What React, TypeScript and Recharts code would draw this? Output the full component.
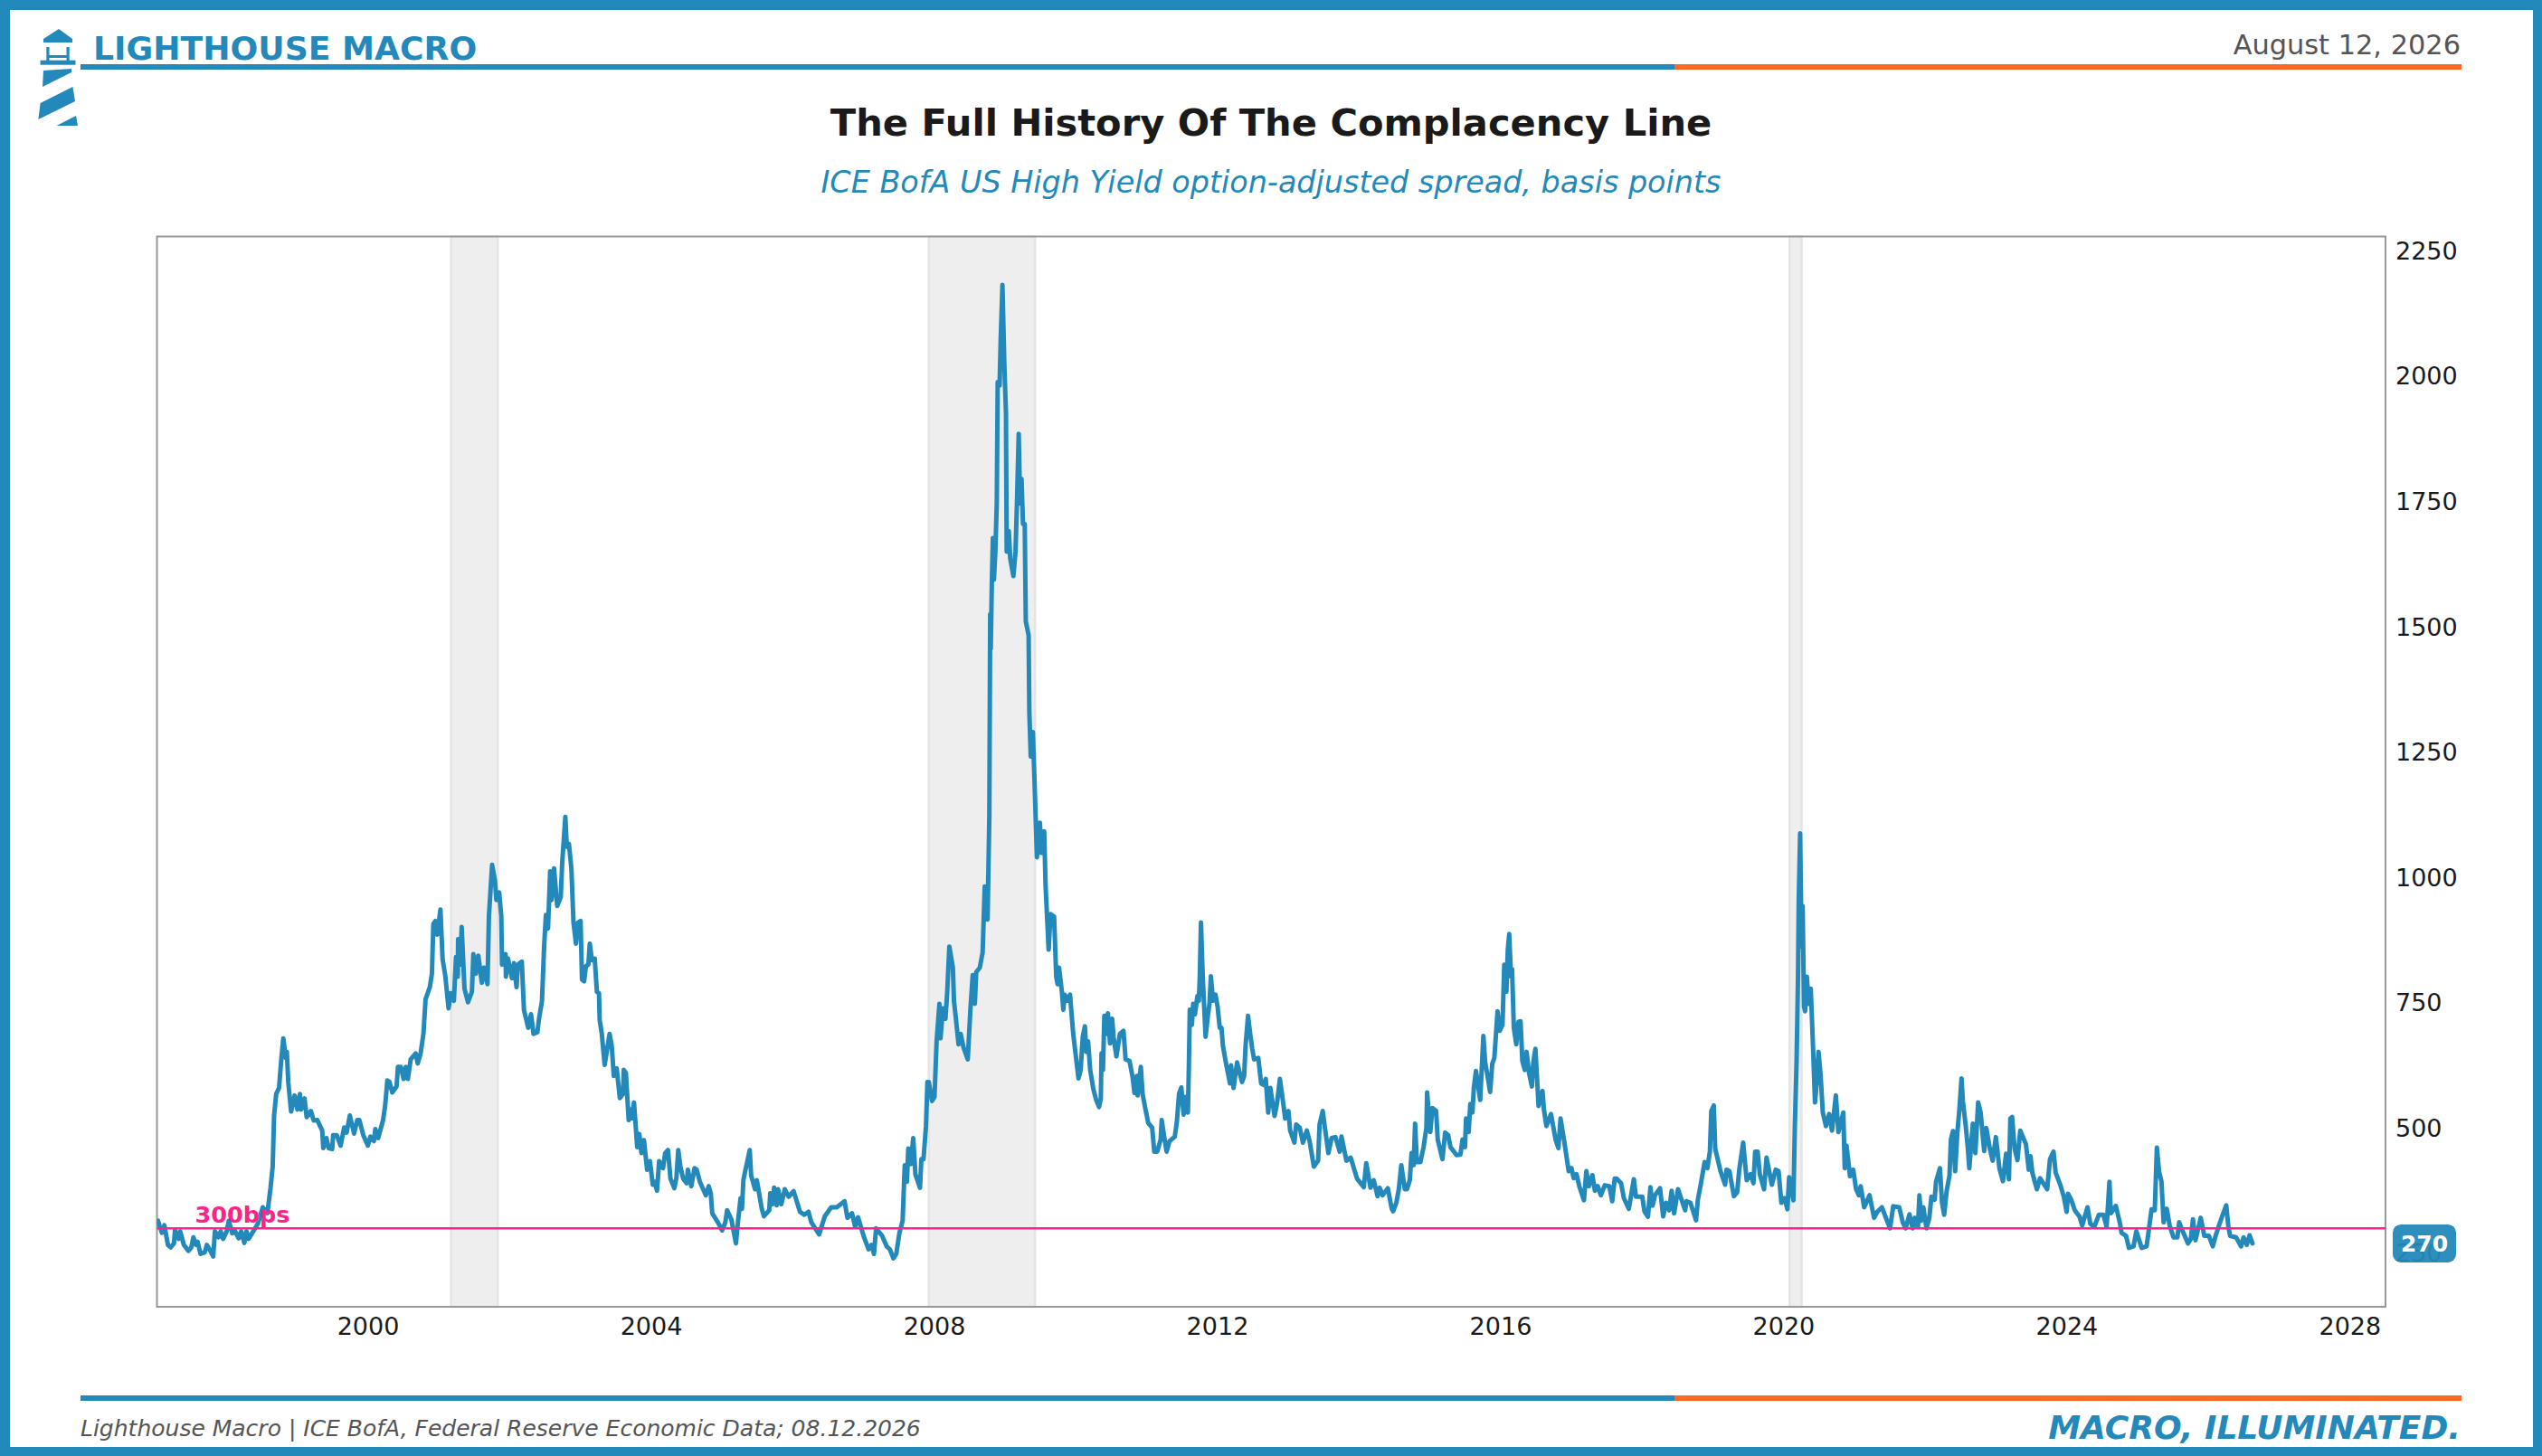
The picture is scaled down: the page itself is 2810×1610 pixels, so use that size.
import { LineChart, Line, XAxis, YAxis, ReferenceArea, ReferenceLine } from "recharts";

const OCEAN = "#2389BB";
const DUSK = "#FF6723";
const MAGENTA = "#FF2389";
const FONT = "'DejaVu Sans', sans-serif";

const xTicks = [2000, 2004, 2008, 2012, 2016, 2020, 2024, 2028];
const yTicks = [250, 500, 750, 1000, 1250, 1500, 1750, 2000, 2250];
const xDomain = [1997.015, 2028.5];
const yDomain = [143.5, 2278.5];
const complacencyLine = 300;
const latestSpread = 270;

// NBER recessions, start and end as decimal years
const recessions = [
  [2001.17, 2001.83],
  [2007.92, 2009.42],
  [2020.08, 2020.25],
];

// [decimal year, bps]
const spread1997to2000 = [
  [1997.03, 315], [1997.085, 291], [1997.12, 306], [1997.17, 267], [1997.21, 262], [1997.255, 270], [1997.27, 297], [1997.32, 279],
  [1997.344, 294], [1997.395, 267], [1997.46, 255], [1997.5, 262], [1997.53, 282], [1997.566, 267], [1997.59, 273], [1997.63, 249],
  [1997.69, 252], [1997.72, 267], [1997.77, 255], [1997.81, 244], [1997.834, 294], [1997.885, 282], [1997.915, 294], [1997.95, 279],
  [1998.0, 294], [1998.03, 315], [1998.08, 290], [1998.11, 297], [1998.17, 280], [1998.205, 294], [1998.25, 271], [1998.28, 294],
  [1998.31, 279], [1998.375, 294], [1998.44, 309], [1998.51, 342], [1998.575, 330], [1998.62, 381], [1998.65, 423], [1998.67, 525],
  [1998.7, 568], [1998.74, 580], [1998.77, 634], [1998.8, 679], [1998.835, 640], [1998.85, 652], [1998.87, 592], [1998.91, 533],
  [1998.96, 565], [1999.0, 537], [1999.035, 568], [1999.05, 537], [1999.1, 559], [1999.13, 522], [1999.19, 534], [1999.23, 515],
  [1999.28, 516], [1999.35, 495], [1999.365, 460], [1999.41, 480], [1999.44, 460], [1999.49, 458], [1999.505, 486], [1999.555, 486],
  [1999.61, 465], [1999.66, 501], [1999.695, 491], [1999.74, 525], [1999.8, 489], [1999.845, 516], [1999.875, 516], [1999.93, 486],
  [1999.995, 465],
];

const spread2000to2003 = [
  [2000.03, 483], [2000.08, 474], [2000.1, 498], [2000.14, 480], [2000.21, 516], [2000.24, 546], [2000.27, 595], [2000.3, 592],
  [2000.34, 571], [2000.4, 583], [2000.42, 622], [2000.46, 622], [2000.5, 598], [2000.53, 622], [2000.56, 598], [2000.6, 637],
  [2000.67, 649], [2000.7, 629], [2000.74, 649], [2000.78, 688], [2000.81, 757], [2000.87, 781], [2000.9, 808], [2000.92, 907],
  [2000.95, 913], [2000.975, 886], [2001.02, 936], [2001.05, 838], [2001.09, 802], [2001.135, 739], [2001.165, 769], [2001.21, 754],
  [2001.24, 841], [2001.265, 802], [2001.27, 877], [2001.3, 826], [2001.32, 901], [2001.36, 778], [2001.41, 751], [2001.465, 772],
  [2001.485, 847], [2001.52, 808], [2001.555, 844], [2001.605, 790], [2001.635, 820], [2001.685, 787], [2001.705, 922], [2001.75, 1025],
  [2001.79, 994], [2001.81, 955], [2001.85, 970], [2001.88, 922], [2001.89, 826], [2001.94, 847], [2001.945, 802], [2001.975, 838],
  [2002.03, 799], [2002.06, 829], [2002.095, 781], [2002.115, 826], [2002.17, 832], [2002.2, 736], [2002.26, 700], [2002.3, 727],
  [2002.335, 688], [2002.39, 691], [2002.41, 715], [2002.455, 754], [2002.485, 862], [2002.51, 925], [2002.54, 898], [2002.57, 1012],
  [2002.59, 955], [2002.625, 1018], [2002.67, 943], [2002.72, 961], [2002.74, 1028], [2002.785, 1121], [2002.805, 1061], [2002.835, 1067],
  [2002.87, 1018], [2002.9, 910], [2002.935, 868], [2002.965, 910], [2003.0, 913],
];

const spread2003to2007 = [
  [2003.02, 796], [2003.05, 793], [2003.075, 823], [2003.11, 826], [2003.13, 868], [2003.16, 835], [2003.2, 838], [2003.23, 772],
  [2003.26, 769], [2003.27, 715], [2003.3, 688], [2003.34, 626], [2003.37, 652], [2003.41, 688], [2003.44, 664], [2003.47, 604],
  [2003.51, 619], [2003.555, 560], [2003.6, 568], [2003.61, 616], [2003.64, 610], [2003.68, 516], [2003.71, 537], [2003.725, 519],
  [2003.755, 551], [2003.8, 462], [2003.83, 488], [2003.86, 450], [2003.895, 476], [2003.94, 417], [2003.98, 434], [2004.02, 387],
  [2004.045, 393], [2004.08, 375], [2004.11, 434], [2004.165, 420], [2004.195, 450], [2004.235, 456], [2004.27, 399], [2004.325, 380],
  [2004.355, 402], [2004.38, 456], [2004.41, 423], [2004.45, 399], [2004.5, 390], [2004.515, 417], [2004.565, 384], [2004.61, 420],
  [2004.64, 417], [2004.685, 393], [2004.77, 366], [2004.81, 384], [2004.84, 369], [2004.86, 330], [2004.94, 312], [2005.0, 296],
  [2005.045, 312], [2005.07, 336], [2005.13, 318], [2005.195, 270], [2005.225, 315], [2005.26, 360], [2005.28, 339], [2005.3, 396],
  [2005.33, 417], [2005.39, 456], [2005.41, 405], [2005.465, 378], [2005.49, 396], [2005.56, 339], [2005.59, 324], [2005.665, 336],
  [2005.68, 370], [2005.71, 348], [2005.735, 381], [2005.77, 346], [2005.79, 378], [2005.835, 348], [2005.885, 378], [2005.94, 363],
  [2006.01, 374], [2006.1, 333], [2006.16, 327], [2006.22, 333], [2006.26, 312], [2006.37, 288], [2006.45, 324], [2006.54, 342],
  [2006.62, 342], [2006.73, 354], [2006.77, 321], [2006.835, 330], [2006.88, 303], [2006.92, 322],
];

const spread2007to2009 = [
  [2007.005, 282], [2007.07, 258], [2007.11, 267], [2007.145, 249], [2007.175, 300], [2007.26, 285], [2007.325, 264], [2007.37, 258],
  [2007.42, 240], [2007.46, 249], [2007.505, 291], [2007.55, 315], [2007.58, 426], [2007.61, 393], [2007.63, 459], [2007.665, 428],
  [2007.7, 480], [2007.73, 408], [2007.795, 381], [2007.815, 438], [2007.845, 438], [2007.88, 504], [2007.9, 592], [2007.92, 592],
  [2007.965, 554], [2008.0, 562], [2008.03, 673], [2008.07, 748], [2008.085, 679], [2008.12, 739], [2008.155, 718], [2008.18, 772],
  [2008.21, 862], [2008.26, 820], [2008.275, 754], [2008.305, 715], [2008.34, 667], [2008.37, 688], [2008.41, 661], [2008.47, 637],
  [2008.51, 742], [2008.54, 805], [2008.57, 748], [2008.59, 811], [2008.64, 820], [2008.68, 850], [2008.71, 982], [2008.74, 922],
  [2008.75, 916], [2008.775, 1123], [2008.787, 1525], [2008.795, 1456], [2008.81, 1587], [2008.825, 1677], [2008.84, 1594], [2008.86, 1650],
  [2008.88, 1746], [2008.893, 1988], [2008.92, 1981], [2008.935, 2071], [2008.96, 2182], [2008.987, 2023], [2009.01, 1926], [2009.02, 1650],
  [2009.05, 1691], [2009.07, 1636], [2009.115, 1601], [2009.145, 1650], [2009.165, 1746], [2009.19, 1885], [2009.21, 1746], [2009.23, 1795],
  [2009.25, 1705], [2009.275, 1705], [2009.29, 1511], [2009.33, 1483], [2009.34, 1331], [2009.36, 1241], [2009.39, 1290], [2009.42, 1163],
];

const spread2009to2012 = [
  [2009.447, 1040], [2009.49, 1109], [2009.507, 1049], [2009.55, 1092], [2009.57, 982], [2009.613, 856], [2009.64, 927], [2009.69, 922],
  [2009.72, 802], [2009.74, 787], [2009.76, 820], [2009.8, 772], [2009.82, 736], [2009.84, 766], [2009.88, 754], [2009.915, 766],
  [2009.96, 688], [2009.99, 652], [2010.035, 599], [2010.065, 616], [2010.095, 682], [2010.125, 703], [2010.145, 652], [2010.17, 673],
  [2010.2, 616], [2010.245, 577], [2010.285, 556], [2010.325, 542], [2010.35, 559], [2010.36, 649], [2010.38, 616], [2010.4, 724],
  [2010.425, 688], [2010.45, 729], [2010.48, 669], [2010.51, 718], [2010.53, 682], [2010.57, 643], [2010.62, 688], [2010.67, 694],
  [2010.7, 637], [2010.755, 634], [2010.8, 601], [2010.825, 570], [2010.86, 604], [2010.87, 565], [2010.915, 622], [2010.94, 568],
  [2010.98, 538], [2011.02, 510], [2011.075, 501], [2011.105, 453], [2011.147, 453], [2011.195, 477], [2011.21, 516], [2011.245, 483],
  [2011.28, 453], [2011.32, 474], [2011.395, 483], [2011.425, 513], [2011.455, 568], [2011.487, 581], [2011.52, 527], [2011.54, 562],
  [2011.58, 531], [2011.594, 622], [2011.607, 736], [2011.637, 706], [2011.655, 748], [2011.68, 727], [2011.714, 763], [2011.735, 754],
  [2011.748, 802], [2011.765, 910], [2011.79, 802], [2011.83, 682], [2011.862, 724], [2011.885, 748], [2011.905, 803], [2011.935, 754],
  [2011.97, 766],
];

const spread2012to2015 = [
  [2012.0, 742], [2012.03, 700], [2012.055, 700], [2012.075, 664], [2012.12, 628], [2012.175, 589], [2012.19, 625], [2012.225, 580],
  [2012.275, 631], [2012.345, 592], [2012.375, 604], [2012.395, 664], [2012.43, 724], [2012.46, 688], [2012.49, 658], [2012.515, 637],
  [2012.575, 640], [2012.615, 589], [2012.65, 586], [2012.68, 598], [2012.715, 531], [2012.745, 580], [2012.805, 524], [2012.84, 550],
  [2012.88, 598], [2012.915, 562], [2012.955, 519], [2013.0, 534], [2013.025, 495], [2013.085, 471], [2013.11, 507], [2013.16, 501],
  [2013.205, 471], [2013.26, 495], [2013.3, 474], [2013.36, 423], [2013.42, 435], [2013.44, 507], [2013.485, 534], [2013.51, 507],
  [2013.565, 450], [2013.61, 480], [2013.665, 482], [2013.725, 453], [2013.75, 483], [2013.82, 435], [2013.88, 441], [2013.97, 399],
  [2014.065, 382], [2014.1, 430], [2014.16, 381], [2014.205, 396], [2014.26, 364], [2014.29, 381], [2014.33, 366], [2014.405, 380],
  [2014.46, 339], [2014.48, 334], [2014.525, 351], [2014.56, 378], [2014.595, 426], [2014.645, 378], [2014.675, 378], [2014.715, 396],
  [2014.74, 450], [2014.77, 426], [2014.79, 509], [2014.815, 432], [2014.865, 432], [2014.91, 462], [2014.95, 501], [2014.96, 571],
];

const spread2015to2018 = [
  [2015.005, 492], [2015.035, 540], [2015.087, 534], [2015.11, 477], [2015.176, 438], [2015.215, 491], [2015.257, 486], [2015.29, 462],
  [2015.376, 446], [2015.43, 447], [2015.46, 477], [2015.495, 462], [2015.51, 519], [2015.547, 492], [2015.57, 548], [2015.6, 531],
  [2015.62, 580], [2015.65, 614], [2015.71, 556], [2015.755, 684], [2015.78, 631], [2015.81, 607], [2015.85, 572], [2015.88, 628],
  [2015.91, 640], [2015.955, 733], [2015.985, 694], [2016.025, 706], [2016.05, 826], [2016.08, 772], [2016.1, 856], [2016.12, 887],
  [2016.145, 802], [2016.16, 817], [2016.185, 700], [2016.22, 667], [2016.25, 712], [2016.28, 713], [2016.305, 634], [2016.34, 616],
  [2016.365, 652], [2016.4, 610], [2016.44, 583], [2016.46, 631], [2016.49, 658], [2016.535, 544], [2016.59, 574], [2016.61, 537],
  [2016.645, 504], [2016.71, 528], [2016.775, 477], [2016.815, 460], [2016.845, 519], [2016.9, 471], [2016.96, 414], [2017.0, 420],
  [2017.03, 400], [2017.07, 408], [2017.11, 384], [2017.175, 356], [2017.21, 414], [2017.245, 384], [2017.295, 406], [2017.33, 375],
  [2017.37, 384], [2017.415, 366], [2017.47, 386], [2017.535, 384], [2017.575, 354], [2017.61, 399], [2017.64, 399], [2017.7, 390],
  [2017.74, 360], [2017.81, 339], [2017.88, 398], [2017.91, 363],
];

const spread2018to2021 = [
  [2018.0, 363], [2018.03, 334], [2018.08, 323], [2018.115, 382], [2018.145, 345], [2018.18, 366], [2018.25, 380], [2018.295, 324],
  [2018.335, 351], [2018.38, 336], [2018.415, 375], [2018.45, 330], [2018.505, 378], [2018.605, 336], [2018.625, 354], [2018.68, 351],
  [2018.76, 316], [2018.785, 357], [2018.825, 387], [2018.88, 432], [2018.92, 420], [2018.955, 453], [2018.975, 534], [2019.01, 545],
  [2019.03, 459], [2019.075, 432], [2019.105, 414], [2019.17, 387], [2019.19, 417], [2019.23, 414], [2019.295, 364], [2019.34, 372],
  [2019.37, 417], [2019.425, 471], [2019.475, 396], [2019.53, 408], [2019.57, 390], [2019.595, 453], [2019.63, 453], [2019.66, 408],
  [2019.72, 378], [2019.755, 441], [2019.83, 387], [2019.885, 417], [2019.925, 414], [2019.965, 351], [2020.01, 360], [2020.05, 338],
  [2020.075, 402], [2020.135, 356], [2020.155, 501], [2020.18, 634], [2020.2, 802], [2020.21, 952], [2020.23, 1088], [2020.25, 862],
  [2020.265, 943], [2020.285, 742], [2020.3, 733], [2020.325, 802], [2020.35, 748], [2020.38, 778], [2020.41, 670], [2020.44, 551],
  [2020.465, 592], [2020.49, 652], [2020.52, 604], [2020.55, 531], [2020.595, 504], [2020.64, 528], [2020.68, 495], [2020.735, 565],
  [2020.77, 492], [2020.84, 531], [2020.86, 420], [2020.885, 465], [2020.935, 404], [2020.98, 417],
];

const spread2021to2024 = [
  [2021.02, 378], [2021.06, 366], [2021.085, 384], [2021.135, 342], [2021.21, 366], [2021.275, 321], [2021.32, 333], [2021.385, 342],
  [2021.45, 318], [2021.5, 300], [2021.545, 344], [2021.63, 342], [2021.68, 312], [2021.72, 300], [2021.775, 328], [2021.82, 300],
  [2021.85, 321], [2021.895, 303], [2021.915, 366], [2021.94, 315], [2021.97, 342], [2022.015, 300], [2022.055, 321], [2022.085, 363],
  [2022.13, 357], [2022.15, 393], [2022.205, 420], [2022.235, 351], [2022.265, 327], [2022.3, 375], [2022.34, 405], [2022.36, 477],
  [2022.39, 494], [2022.42, 414], [2022.45, 489], [2022.48, 537], [2022.51, 599], [2022.53, 553], [2022.57, 504], [2022.6, 459],
  [2022.62, 420], [2022.67, 509], [2022.705, 450], [2022.745, 551], [2022.78, 531], [2022.83, 454], [2022.86, 500], [2022.91, 459],
  [2022.95, 435], [2022.995, 482], [2023.045, 420], [2023.095, 394], [2023.14, 449], [2023.18, 398], [2023.2, 519], [2023.225, 522],
  [2023.26, 459], [2023.3, 436], [2023.34, 495], [2023.42, 468], [2023.46, 417], [2023.485, 444], [2023.51, 411], [2023.575, 378],
  [2023.62, 400], [2023.72, 378], [2023.76, 438], [2023.81, 453], [2023.84, 411], [2023.905, 387], [2023.955, 363], [2023.995, 333],
];

const spread2024to2026 = [
  [2024.015, 369], [2024.06, 357], [2024.11, 336], [2024.175, 324], [2024.215, 306], [2024.29, 342], [2024.33, 309], [2024.385, 303],
  [2024.45, 327], [2024.515, 327], [2024.56, 303], [2024.6, 393], [2024.62, 330], [2024.69, 345], [2024.75, 309], [2024.77, 291],
  [2024.835, 285], [2024.875, 261], [2024.94, 264], [2024.98, 294], [2025.055, 261], [2025.125, 264], [2025.195, 338], [2025.24, 336],
  [2025.27, 461], [2025.3, 414], [2025.335, 393], [2025.365, 312], [2025.41, 339], [2025.45, 306], [2025.505, 282], [2025.56, 282],
  [2025.585, 312], [2025.635, 294], [2025.71, 270], [2025.75, 279], [2025.78, 318], [2025.815, 276], [2025.89, 321], [2025.94, 285],
  [2026.005, 285], [2026.06, 264], [2026.1, 285], [2026.155, 309], [2026.2, 327], [2026.25, 346], [2026.28, 303], [2026.305, 285],
  [2026.39, 282], [2026.46, 264], [2026.495, 282], [2026.54, 267], [2026.58, 286], [2026.62, 270],
];

const chartData = [
  ...spread1997to2000,
  ...spread2000to2003,
  ...spread2003to2007,
  ...spread2007to2009,
  ...spread2009to2012,
  ...spread2012to2015,
  ...spread2015to2018,
  ...spread2018to2021,
  ...spread2021to2024,
  ...spread2024to2026,
].map(([year, bps]) => ({ year, bps }));

function ThresholdLabel({ viewBox }: any) {
  return (
    <text x={viewBox.x + 42} y={viewBox.y - 6} fill={MAGENTA} fontFamily={FONT} fontWeight="bold" fontSize={25.5}>
      300bps
    </text>
  );
}

// the latest value is the last tick, so its badge is painted over the 250 label
function SpreadTick({ x, y, payload }: any) {
  if (payload.value === latestSpread) {
    return (
      <g>
        <rect x={x - 3} y={y - 21} width={70} height={42} rx={9} fill={OCEAN} fillOpacity={0.95} />
        <text x={x + 32} y={y + 9} textAnchor="middle" fill="#fff" fontFamily={FONT} fontWeight="bold" fontSize={25}>
          {payload.value}
        </text>
      </g>
    );
  }
  return (
    <text x={x} y={y + 9.5} fill="#1a1a1a" fontFamily={FONT} fontSize={27}>
      {payload.value}
    </text>
  );
}

function Logo() {
  return (
    <svg width={100} height={150} style={{ position: "absolute", left: 0, top: 0 }} fill={OCEAN}>
      <polygon points="48,43 65,32 80,43 80,47 48,47" />
      <path d="M51.3 52h3.2v9h19v-9h3.2v15h-3.2v-3h-19v3h-3.2z" />
      <rect x={44.6} y={66.7} width={38.9} height={5} />
      <polygon points="48,78 79,76 79,80 47,96" />
      <polygon points="80.4,96 83,112 42.4,132 44.6,114" />
      <polygon points="84,128 86,139 62.5,139" />
    </svg>
  );
}

function Caption({ style, children }: any) {
  return <div style={{ position: "absolute", fontFamily: FONT, whiteSpace: "nowrap", lineHeight: 1, ...style }}>{children}</div>;
}

function Rule({ top }: { top: number }) {
  return (
    <>
      <div style={{ position: "absolute", left: 89, top, width: 1762, height: 6, background: OCEAN }} />
      <div style={{ position: "absolute", left: 1851, top, width: 870, height: 6, background: DUSK }} />
    </>
  );
}

export default function App() {
  return (
    <div style={{ position: "absolute", left: 0, top: 0, width: 2810, height: 1610, background: "#fff", overflow: "hidden" }}>
      <LineChart
        width={2810}
        height={1610}
        data={chartData}
        margin={{ top: 261.5, right: 113, bottom: 125, left: 173.5 }}
      >
        {recessions.map(([start, end]) => (
          <ReferenceArea key={start} x1={start} x2={end} fill="#EEEEEE" fillOpacity={1} stroke="#E4E4E4" strokeWidth={2.5} />
        ))}
        <XAxis
          type="number"
          dataKey="year"
          domain={xDomain}
          ticks={xTicks}
          allowDataOverflow
          height={40}
          axisLine={false}
          tickLine={false}
          tickSize={0}
          tickMargin={12}
          tick={{ fill: "#1a1a1a", fontSize: 27, fontFamily: FONT }}
        />
        <YAxis
          orientation="right"
          type="number"
          domain={yDomain}
          ticks={[...yTicks, latestSpread]}
          interval={0}
          allowDataOverflow
          width={60}
          axisLine={false}
          tickLine={false}
          tickSize={0}
          tickMargin={11}
          tick={SpreadTick}
        />
        <Line
          type="linear"
          dataKey="bps"
          stroke={OCEAN}
          strokeWidth={5}
          strokeLinejoin="round"
          strokeLinecap="round"
          dot={false}
          activeDot={false}
          isAnimationActive={false}
        />
        <ReferenceLine y={complacencyLine} stroke={MAGENTA} strokeWidth={2.5} label={ThresholdLabel} />
        <ReferenceArea x1={xDomain[0]} x2={xDomain[1]} y1={yDomain[0]} y2={yDomain[1]} fill="none" stroke="#999" strokeWidth={2} />
      </LineChart>

      {/* page frame */}
      <div style={{ position: "absolute", inset: 0, boxSizing: "border-box", borderStyle: "solid", borderColor: OCEAN, borderWidth: "11px 10px 10px 11px" }} />

      <Logo />
      <Caption style={{ left: 103, top: 36, fontSize: 36.2, fontWeight: "bold", color: OCEAN }}>LIGHTHOUSE MACRO</Caption>
      <Caption style={{ right: 90, top: 35, fontSize: 30.4, color: "#555" }}>August 12, 2026</Caption>
      <Rule top={71} />

      <Caption style={{ left: 0, width: 2810, textAlign: "center", top: 115, fontSize: 41.6, fontWeight: "bold", color: "#1a1a1a" }}>
        The Full History Of The Complacency Line
      </Caption>
      <Caption style={{ left: 0, width: 2810, textAlign: "center", top: 185, fontSize: 33.4, fontStyle: "italic", color: OCEAN }}>
        ICE BofA US High Yield option-adjusted spread, basis points
      </Caption>

      <Rule top={1543} />
      <Caption style={{ left: 89, top: 1567, fontSize: 25, fontStyle: "italic", color: "#555" }}>
        Lighthouse Macro | ICE BofA, Federal Reserve Economic Data; 08.12.2026
      </Caption>
      <Caption style={{ right: 90, top: 1561, fontSize: 36, fontStyle: "italic", fontWeight: "bold", color: OCEAN }}>MACRO, ILLUMINATED.</Caption>
    </div>
  );
}
